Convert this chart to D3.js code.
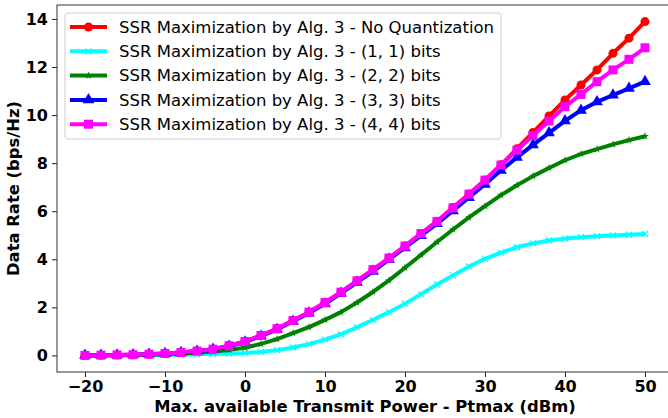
<!DOCTYPE html>
<html>
<head>
<meta charset="utf-8">
<script src="https://cdn.jsdelivr.net/npm/d3@7"></script>
<style>
  body { margin: 0; background: #fff; }
  svg { font-family: "DejaVu Sans", sans-serif; }
</style>
</head>
<body>
<div id="chart"></div>
<script>
// x values: Ptmax in dBm, step 2
const power = d3.range(-20, 51, 2);

const noQuant = [0.0, 0.01, 0.02, 0.03, 0.05, 0.08, 0.12, 0.18, 0.26, 0.4, 0.58, 0.83, 1.11, 1.45, 1.8, 2.2, 2.63, 3.1,
  3.57, 4.05, 4.55, 5.07, 5.58, 6.15, 6.72, 7.3, 7.93, 8.6, 9.28, 9.96, 10.63, 11.25, 11.88, 12.57, 13.2, 13.89];
const bits11 = [0.0, 0.0, 0.005, 0.01, 0.015, 0.02, 0.03, 0.045, 0.06, 0.08, 0.1, 0.14, 0.22, 0.33, 0.47, 0.66, 0.88, 1.17,
  1.48, 1.8, 2.15, 2.55, 2.95, 3.33, 3.7, 4.02, 4.28, 4.5, 4.66, 4.78, 4.86, 4.92, 4.96, 4.99, 5.02, 5.05];
const bits22 = [0.0, 0.005, 0.01, 0.02, 0.03, 0.05, 0.08, 0.11, 0.16, 0.23, 0.32, 0.48, 0.68, 0.93, 1.18, 1.48, 1.8, 2.2,
  2.64, 3.12, 3.65, 4.18, 4.72, 5.24, 5.74, 6.21, 6.67, 7.08, 7.46, 7.8, 8.12, 8.38, 8.58, 8.78, 8.96, 9.12];
const bits33 = [0.0, 0.01, 0.02, 0.03, 0.05, 0.08, 0.12, 0.17, 0.25, 0.38, 0.56, 0.8, 1.08, 1.42, 1.76, 2.15, 2.58, 3.04,
  3.5, 4.0, 4.48, 4.98, 5.48, 6.02, 6.57, 7.12, 7.7, 8.24, 8.76, 9.26, 9.76, 10.2, 10.55, 10.83, 11.11, 11.39];
const bits44 = [0.0, 0.01, 0.02, 0.03, 0.05, 0.08, 0.12, 0.18, 0.26, 0.4, 0.58, 0.83, 1.11, 1.45, 1.8, 2.2, 2.63, 3.1,
  3.57, 4.05, 4.55, 5.07, 5.57, 6.14, 6.71, 7.29, 7.92, 8.54, 9.15, 9.75, 10.35, 10.86, 11.39, 11.88, 12.32, 12.8];

const xTicks = [-20, -10, 0, 10, 20, 30, 40, 50];
const yTicks = [0, 2, 4, 6, 8, 10, 12, 14];

const series = [
  {name: "SSR Maximization by Alg. 3 - No Quantization", values: noQuant, color: "#ff0000", marker: "circle"},
  {name: "SSR Maximization by Alg. 3 - (1, 1) bits", values: bits11, color: "#00ffff", marker: "x"},
  {name: "SSR Maximization by Alg. 3 - (2, 2) bits", values: bits22, color: "#008000", marker: "star"},
  {name: "SSR Maximization by Alg. 3 - (3, 3) bits", values: bits33, color: "#0000ff", marker: "triangle"},
  {name: "SSR Maximization by Alg. 3 - (4, 4) bits", values: bits44, color: "#ff00ff", marker: "square"}
];

const width = 668, height = 418;
const margin = {top: 5, right: -5, bottom: 46, left: 57};

const svg = d3.select("#chart").append("svg")
  .attr("width", width).attr("height", height);

const x = d3.scaleLinear().domain([-23.5, 53.5]).range([margin.left, width - margin.right]);
const y = d3.scaleLinear().domain([-0.69, 14.58]).range([height - margin.bottom, margin.top]);

// axes
const fmt = d => (d < 0 ? "\u2212" + Math.abs(d) : "" + d);
const xAxis = svg.append("g")
  .attr("transform", `translate(0,${height - margin.bottom})`)
  .call(d3.axisBottom(x).tickValues(xTicks).tickFormat(fmt).tickSize(5).tickPadding(4));
const yAxis = svg.append("g")
  .attr("transform", `translate(${margin.left},0)`)
  .call(d3.axisLeft(y).tickValues(yTicks).tickFormat(fmt).tickSize(5).tickPadding(4));
[xAxis, yAxis].forEach(g => {
  g.select(".domain").remove();
  g.selectAll("line").attr("stroke", "#222").attr("stroke-width", 1);
  g.selectAll("text").attr("fill", "#000").style("font-size", "16px").style("font-weight", "bold")
    .style("font-family", "DejaVu Sans");
});

// frame
svg.append("rect")
  .attr("x", x.range()[0]).attr("y", y.range()[1])
  .attr("width", x.range()[1] - x.range()[0]).attr("height", y.range()[0] - y.range()[1])
  .attr("fill", "none").attr("stroke", "#333").attr("stroke-width", 1);

// lines + markers
const line = d3.line().x((d, i) => x(power[i])).y(d => y(d));

function drawMarker(g, type, color, size) {
  if (type === "circle") {
    g.append("circle").attr("r", size * 0.5).attr("fill", color);
  } else if (type === "square") {
    g.append("rect").attr("x", -size / 2).attr("y", -size / 2).attr("width", size).attr("height", size).attr("fill", color);
  } else if (type === "triangle") {
    g.append("path").attr("d", d3.symbol(d3.symbolTriangle, size * size * 0.6)()).attr("fill", color);
  } else if (type === "star") {
    g.append("path").attr("d", d3.symbol(d3.symbolStar, size * size * 0.3)()).attr("fill", color);
  } else if (type === "x") {
    const s = size / 2;
    g.append("path").attr("d", `M${-s},${-s}L${s},${s}M${-s},${s}L${s},${-s}`)
      .attr("stroke", color).attr("stroke-width", 1.2);
  }
}

const markerSize = {circle: 9, square: 9, triangle: 10, star: 8, x: 6};

series.forEach(s => {
  svg.append("path")
    .datum(s.values)
    .attr("fill", "none")
    .attr("stroke", s.color)
    .attr("stroke-width", 4)
    .attr("stroke-linejoin", "round")
    .attr("d", line);
  s.values.forEach((v, i) => {
    const g = svg.append("g").attr("transform", `translate(${x(power[i])},${y(v)})`);
    drawMarker(g, s.marker, s.color, markerSize[s.marker]);
  });
});

// legend
const legend = svg.append("g");
legend.append("rect")
  .attr("x", 65).attr("y", 13).attr("width", 436).attr("height", 126)
  .attr("rx", 3).attr("fill", "#fff").attr("fill-opacity", 0.8)
  .attr("stroke", "#ccc").attr("stroke-width", 1);
series.forEach((s, i) => {
  const cy = 27 + i * 24.3;
  legend.append("line").attr("x1", 70).attr("x2", 107).attr("y1", cy).attr("y2", cy)
    .attr("stroke", s.color).attr("stroke-width", 4);
  drawMarker(legend.append("g").attr("transform", `translate(88.5,${cy})`), s.marker, s.color, markerSize[s.marker]);
  legend.append("text").attr("x", 119).attr("y", cy).attr("dy", "0.35em")
    .style("font-size", "16.5px").attr("fill", "#000").text(s.name);
});

// axis titles
svg.append("text")
  .attr("x", 365).attr("y", 412)
  .attr("text-anchor", "middle").style("font-size", "16.4px").style("font-weight", "bold")
  .text("Max. available Transmit Power - Ptmax (dBm)");
svg.append("text")
  .attr("transform", `translate(19,${(y.range()[0] + y.range()[1]) / 2}) rotate(-90)`)
  .attr("text-anchor", "middle").style("font-size", "16.4px").style("font-weight", "bold")
  .text("Data Rate (bps/Hz)");
</script>
</body>
</html>
